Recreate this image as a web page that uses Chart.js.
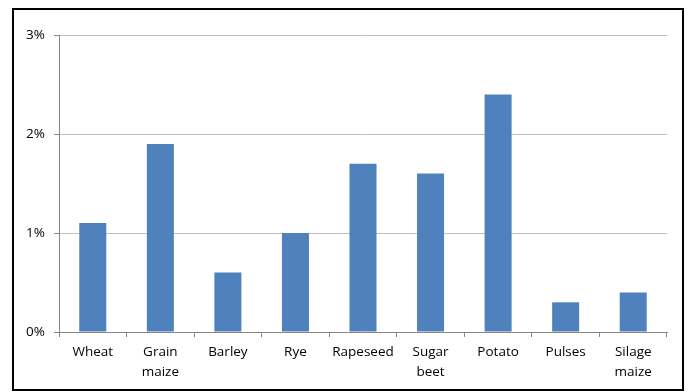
<!DOCTYPE html>
<html>
<head>
<meta charset="utf-8">
<script src="https://cdn.jsdelivr.net/npm/chart.js@4/dist/chart.umd.min.js"></script>
<style>
  html, body { margin: 0; padding: 0; background: #fff; }
  #wrap { position: relative; width: 689px; height: 391px; }
  #frame { position: absolute; left: 12px; top: 8px; width: 668px; height: 379px; border: 2px solid #000; pointer-events: none; }
  canvas { position: absolute; left: 0; top: 0; }
</style>
</head>
<body>
<div id="wrap">
  <canvas id="c" width="689" height="391"></canvas>
  <div id="frame"></div>
</div>
<script>
// Crop categories and their share values (percent)
const categories = [["Wheat"], ["Grain", "maize"], ["Barley"], ["Rye"], ["Rapeseed"], ["Sugar", "beet"], ["Potato"], ["Pulses"], ["Silage", "maize"]];
const shares = [1.1, 1.9, 0.6, 1.0, 1.7, 1.6, 2.4, 0.3, 0.4];
const yTicks = [0, 1, 2, 3];

const font = { family: "'Open Sans', 'Liberation Sans', sans-serif", size: 13.5, lineHeight: 1.5 };

new Chart(document.getElementById('c'), {
  type: 'bar',
  data: {
    labels: categories,
    datasets: [{
      data: shares,
      backgroundColor: '#4F81BD',
      borderWidth: 0,
      barPercentage: 0.4,
      categoryPercentage: 1.0
    }]
  },
  options: {
    responsive: false,
    animation: false,
    devicePixelRatio: 1,
    layout: { padding: { top: 35, right: 22, left: 0, bottom: 0 } },
    plugins: { legend: { display: false }, tooltip: { enabled: false } },
    scales: {
      x: {
        offset: true,
        grid: { offset: true, drawOnChartArea: false, drawTicks: true, tickLength: 5, tickColor: '#868686' },
        border: { color: '#868686', width: 1 },
        ticks: { color: '#000', font: font, padding: 5, maxRotation: 0, autoSkip: false },
        afterFit: (s) => { s.height = 59; }
      },
      y: {
        min: 0, max: 3,
        afterBuildTicks: (s) => { s.ticks = yTicks.map(v => ({ value: v })); },
        grid: { color: '#C0C0C0', lineWidth: 1, tickLength: 5, tickColor: '#868686' },
        border: { color: '#868686', width: 1 },
        ticks: { color: '#000', font: font, padding: 9, callback: (v) => v + '%' },
        afterFit: (s) => { s.width = 59; }
      }
    }
  }
});
</script>
</body>
</html>
